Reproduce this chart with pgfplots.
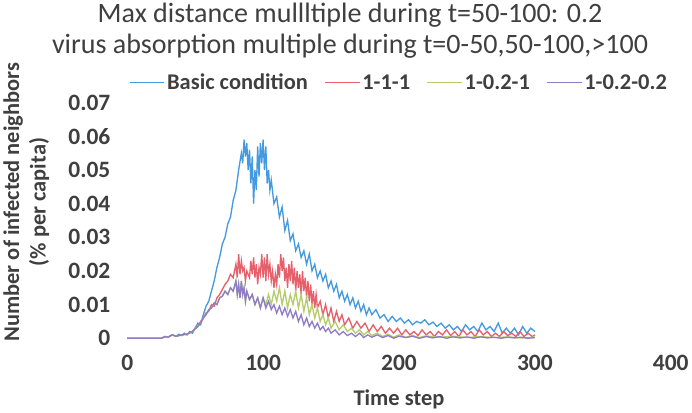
\documentclass[border=0pt]{standalone}
\usepackage{pgfplots}
\pgfplotsset{compat=1.18}
\usepackage{fontspec}
\setmainfont{Carlito}
\definecolor{txt}{HTML}{3F3F3F}
\definecolor{cblue}{HTML}{449AE0}
\definecolor{cred}{HTML}{E5606B}
\definecolor{cgreen}{HTML}{B4CC6A}
\definecolor{cpurple}{HTML}{8F7CC8}
\begin{document}
\begin{tikzpicture}
\begin{axis}[
  scale only axis, width=533pt, height=231pt,
  xmin=0, xmax=400, ymin=0, ymax=0.07,
  xtick={0,100,200,300,400},
  ytick={0,0.01,0.02,0.03,0.04,0.05,0.06,0.07},
  yticklabels={0,0.01,0.02,0.03,0.04,0.05,0.06,0.07},
  xticklabels={0,100,200,300,400},
  scaled y ticks=false,
  axis line style={draw=none},
  major tick length=0pt,
  tick label style={font=\fontsize{23}{26}\selectfont\bfseries, text=txt},
  yticklabel style={xshift=-13pt},
  xticklabel style={yshift=-13pt},
  xlabel={Time step},
  ylabel={Number of infected neighbors\\(\% per capita)},
  label style={font=\fontsize{22}{26}\selectfont\bfseries, text=txt},
  ylabel style={align=center, yshift=12pt, xshift=18pt},
  xlabel style={yshift=-12pt},
  title={Max distance mullltiple during t=50-100: 0.2\\virus absorption multiple during t=0-50,50-100,>100},
  title style={font=\fontsize{27.5}{30}\selectfont, text=txt, align=center, yshift=34pt, xshift=-48pt},
  legend style={at={(0.5,1)}, anchor=south, yshift=7pt, draw=none, fill=none,
    font=\fontsize{22}{26}\selectfont\bfseries, text=txt,
    /tikz/every even column/.append style={column sep=14pt}},
  legend columns=4,
  legend image code/.code={\draw[#1, line width=1.4pt] (0pt,0pt) -- (34pt,0pt);},
  every axis plot/.append style={line width=1.3pt},
]
\addplot[cblue] coordinates {
(0,0) (5,0) (10,0) (15,0) (20,0) (25,0) (28,0.0005) (30,0.0003) (33,0.001) (36,0.0006) (38,0.0012) (40,0.0008) (42,0.0015) (44,0.001) (46,0.002) (48,0.0015) (50,0.003) (52,0.0045) (54,0.004) (56,0.007) (58,0.0095) (60,0.011) (62,0.014) (64,0.017) (66,0.021) (68,0.024) (70,0.028) (72,0.03) (74,0.034) (76,0.036) (78,0.041) (80,0.044) (82,0.05) (84,0.055) (85,0.052) (86,0.059) (87,0.054) (88,0.058) (89,0.05) (90,0.056) (91,0.046) (92,0.054) (93,0.04) (94,0.05) (95,0.044) (96,0.057) (97,0.048) (98,0.058) (99,0.052) (100,0.059) (101,0.05) (102,0.057) (103,0.046) (104,0.05) (105,0.044) (106,0.047) (108,0.04) (110,0.042) (112,0.036) (114,0.039) (116,0.032) (118,0.035) (120,0.029) (122,0.031) (124,0.026) (126,0.028) (128,0.024) (130,0.026) (132,0.022) (134,0.025) (136,0.02) (138,0.022) (140,0.018) (142,0.02) (144,0.017) (146,0.019) (148,0.015) (150,0.017) (152,0.014) (154,0.016) (156,0.012) (158,0.014) (160,0.011) (162,0.013) (164,0.01) (166,0.012) (168,0.009) (170,0.011) (172,0.008) (174,0.01) (176,0.007) (178,0.009) (180,0.007) (183,0.0085) (186,0.006) (189,0.007) (192,0.005) (195,0.0065) (198,0.005) (201,0.006) (204,0.0045) (207,0.0055) (210,0.004) (213,0.005) (216,0.0045) (219,0.0055) (222,0.004) (225,0.0048) (228,0.0035) (231,0.0045) (234,0.003) (237,0.004) (240,0.0025) (243,0.0035) (246,0.002) (249,0.004) (252,0.0025) (255,0.0035) (258,0.002) (261,0.0045) (264,0.0025) (267,0.0035) (270,0.002) (273,0.0045) (276,0.0015) (279,0.003) (282,0.0015) (285,0.003) (288,0.001) (291,0.0035) (294,0.0015) (297,0.003) (300,0.002)
};
\addlegendentry{Basic condition}
\addplot[cred] coordinates {
(0,0) (5,0) (10,0) (15,0) (20,0) (25,0) (28,0.0005) (30,0.0003) (33,0.001) (36,0.0006) (40,0.001) (44,0.0012) (48,0.002) (50,0.003) (52,0.0035) (54,0.005) (56,0.006) (58,0.0075) (60,0.008) (62,0.01) (64,0.0095) (66,0.012) (68,0.013) (70,0.0145) (72,0.016) (74,0.017) (76,0.019) (78,0.018) (80,0.022) (81,0.018) (82,0.025) (83,0.019) (84,0.023) (85,0.02) (86,0.021) (87,0.017) (88,0.02) (90,0.018) (91,0.023) (92,0.019) (93,0.024) (94,0.018) (95,0.022) (96,0.016) (97,0.021) (98,0.019) (99,0.025) (100,0.018) (101,0.024) (102,0.017) (103,0.025) (104,0.019) (105,0.022) (106,0.017) (107,0.02) (108,0.015) (109,0.019) (110,0.016) (111,0.022) (112,0.018) (113,0.025) (114,0.02) (115,0.024) (116,0.017) (117,0.021) (118,0.015) (119,0.022) (120,0.017) (121,0.023) (122,0.016) (123,0.021) (124,0.014) (125,0.02) (126,0.015) (127,0.019) (128,0.013) (129,0.02) (130,0.014) (131,0.018) (132,0.012) (133,0.017) (134,0.011) (135,0.016) (136,0.01) (137,0.014) (138,0.009) (139,0.013) (140,0.009) (142,0.011) (144,0.007) (146,0.01) (148,0.006) (150,0.009) (152,0.005) (154,0.008) (156,0.005) (158,0.007) (160,0.004) (163,0.006) (166,0.003) (169,0.005) (172,0.003) (175,0.0045) (178,0.002) (181,0.004) (184,0.002) (187,0.0035) (190,0.0015) (193,0.003) (196,0.0015) (199,0.003) (202,0.001) (205,0.0025) (208,0.001) (211,0.002) (214,0.0008) (217,0.0025) (220,0.001) (223,0.002) (226,0.0005) (229,0.002) (232,0.001) (235,0.0025) (238,0.0008) (241,0.002) (244,0.0005) (247,0.0025) (250,0.001) (253,0.002) (256,0.0005) (259,0.0025) (262,0.001) (265,0.002) (268,0.0005) (271,0.0015) (274,0.0005) (277,0.002) (280,0.0008) (283,0.0015) (286,0.0005) (289,0.002) (292,0.0005) (295,0.0015) (298,0.0005) (300,0.001)
};
\addlegendentry{1-1-1}
\addplot[cgreen] coordinates {
(0,0) (5,0) (10,0) (15,0) (20,0) (25,0) (28,0.0005) (30,0.0003) (33,0.001) (36,0.0006) (40,0.001) (44,0.0012) (48,0.002) (50,0.0028) (52,0.0035) (54,0.0045) (56,0.006) (58,0.007) (60,0.0085) (62,0.009) (64,0.0105) (66,0.01) (68,0.012) (70,0.0125) (72,0.014) (74,0.013) (76,0.015) (78,0.014) (80,0.017) (81,0.013) (82,0.016) (83,0.012) (84,0.017) (85,0.013) (86,0.015) (87,0.011) (88,0.014) (90,0.0115) (92,0.013) (94,0.01) (96,0.012) (98,0.009) (100,0.012) (102,0.01) (104,0.013) (106,0.01) (108,0.014) (110,0.011) (112,0.015) (114,0.01) (116,0.014) (118,0.009) (120,0.013) (122,0.01) (124,0.014) (126,0.009) (128,0.013) (130,0.008) (132,0.012) (134,0.007) (136,0.01) (138,0.006) (140,0.009) (142,0.005) (144,0.007) (146,0.004) (148,0.006) (150,0.003) (153,0.005) (156,0.0025) (159,0.004) (162,0.002) (165,0.003) (168,0.0015) (171,0.0025) (174,0.001) (177,0.002) (180,0.0008) (184,0.0015) (188,0.0005) (192,0.0012) (196,0.0003) (200,0.001) (205,0.0003) (210,0.0008) (215,0.0002) (220,0.0007) (230,0.0003) (240,0.0006) (250,0.0002) (260,0.0005) (270,0.0002) (280,0.0004) (290,0.0001) (300,0.0003)
};
\addlegendentry{1-0.2-1}
\addplot[cpurple] coordinates {
(0,0) (5,0) (10,0) (15,0) (20,0) (25,0) (28,0.0005) (30,0.0003) (33,0.001) (36,0.0006) (40,0.001) (44,0.0012) (48,0.002) (50,0.0028) (52,0.0035) (54,0.0045) (56,0.006) (58,0.007) (60,0.0085) (62,0.009) (64,0.0105) (66,0.01) (68,0.012) (70,0.0125) (72,0.014) (74,0.013) (76,0.015) (78,0.014) (80,0.017) (81,0.013) (82,0.016) (83,0.012) (84,0.017) (85,0.013) (86,0.015) (87,0.011) (88,0.014) (90,0.0115) (92,0.013) (94,0.01) (96,0.012) (98,0.009) (100,0.012) (102,0.009) (104,0.011) (106,0.0085) (108,0.01) (110,0.0075) (112,0.0095) (114,0.007) (116,0.009) (118,0.0065) (120,0.0085) (122,0.006) (124,0.008) (126,0.005) (128,0.007) (130,0.004) (132,0.006) (134,0.0035) (136,0.005) (138,0.003) (140,0.0045) (142,0.0025) (144,0.0035) (146,0.002) (148,0.003) (150,0.0015) (153,0.0025) (156,0.001) (159,0.002) (162,0.0008) (165,0.0015) (168,0.0005) (171,0.0015) (174,0.0002) (177,0.001) (180,0.0003) (184,0.001) (188,0.0002) (192,0.0008) (196,0) (200,0.0006) (205,0.0002) (210,0.0006) (215,0) (220,0.0005) (225,0.0001) (230,0.0005) (235,0) (240,0.0004) (245,0.0001) (250,0.0004) (255,0) (260,0.0004) (265,0.0001) (270,0.0003) (275,0) (280,0.0003) (285,0.0001) (290,0.0003) (295,0) (300,0.0002)
};
\addlegendentry{1-0.2-0.2}
\end{axis}
\end{tikzpicture}
\end{document}
